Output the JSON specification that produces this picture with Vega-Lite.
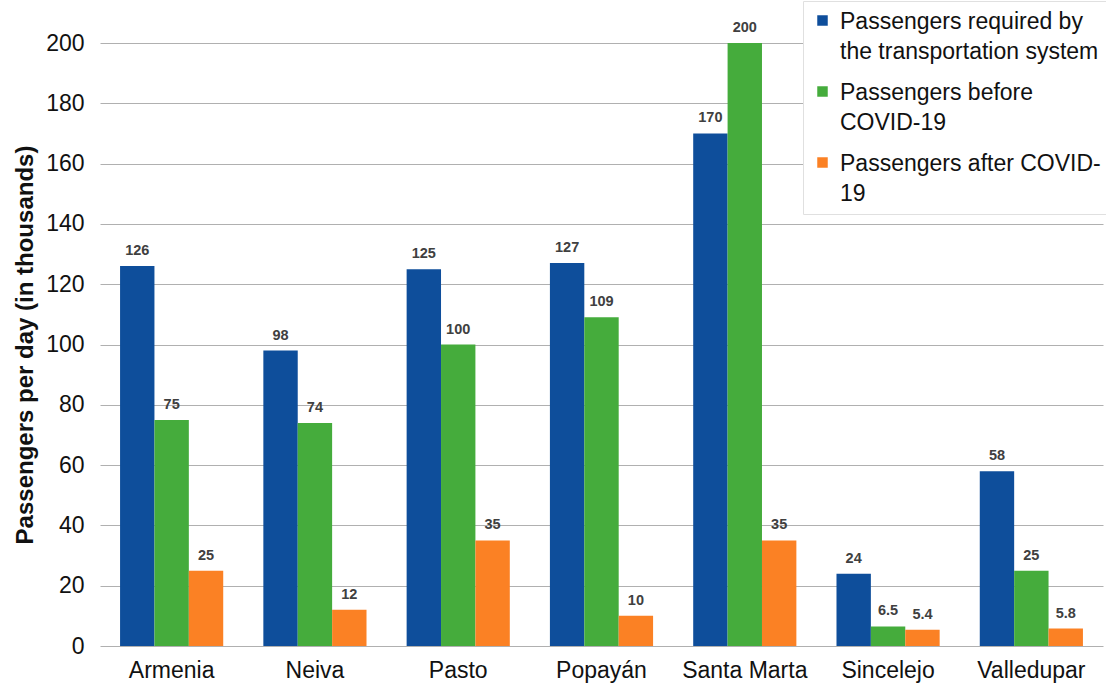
{
  "$schema": "https://vega.github.io/schema/vega-lite/v6.json",
  "autosize": "none",
  "width": 1003,
  "height": 603,
  "padding": {"left": 100, "top": 43, "right": 3, "bottom": 40},
  "background": "white",
  "config": {
    "view": {"stroke": null},
    "font": "Liberation Sans",
    "style": {"guide-label": {"lineHeight": 30}}
  },
  "data": {
    "values": [
      {"city": "Armenia", "series": "Passengers required by the transportation system", "value": 126, "label": "126"},
      {"city": "Armenia", "series": "Passengers before COVID-19", "value": 75, "label": "75"},
      {"city": "Armenia", "series": "Passengers after COVID-19", "value": 25, "label": "25"},
      {"city": "Neiva", "series": "Passengers required by the transportation system", "value": 98, "label": "98"},
      {"city": "Neiva", "series": "Passengers before COVID-19", "value": 74, "label": "74"},
      {"city": "Neiva", "series": "Passengers after COVID-19", "value": 12, "label": "12"},
      {"city": "Pasto", "series": "Passengers required by the transportation system", "value": 125, "label": "125"},
      {"city": "Pasto", "series": "Passengers before COVID-19", "value": 100, "label": "100"},
      {"city": "Pasto", "series": "Passengers after COVID-19", "value": 35, "label": "35"},
      {"city": "Popayán", "series": "Passengers required by the transportation system", "value": 127, "label": "127"},
      {"city": "Popayán", "series": "Passengers before COVID-19", "value": 109, "label": "109"},
      {"city": "Popayán", "series": "Passengers after COVID-19", "value": 10, "label": "10"},
      {"city": "Santa Marta", "series": "Passengers required by the transportation system", "value": 170, "label": "170"},
      {"city": "Santa Marta", "series": "Passengers before COVID-19", "value": 200, "label": "200"},
      {"city": "Santa Marta", "series": "Passengers after COVID-19", "value": 35, "label": "35"},
      {"city": "Sincelejo", "series": "Passengers required by the transportation system", "value": 24, "label": "24"},
      {"city": "Sincelejo", "series": "Passengers before COVID-19", "value": 6.5, "label": "6.5"},
      {"city": "Sincelejo", "series": "Passengers after COVID-19", "value": 5.4, "label": "5.4"},
      {"city": "Valledupar", "series": "Passengers required by the transportation system", "value": 58, "label": "58"},
      {"city": "Valledupar", "series": "Passengers before COVID-19", "value": 25, "label": "25"},
      {"city": "Valledupar", "series": "Passengers after COVID-19", "value": 5.8, "label": "5.8"}
    ]
  },
  "encoding": {
    "x": {
      "field": "city", "type": "nominal", "sort": null,
      "scale": {"paddingInner": 0.28, "paddingOuter": 0.14},
      "axis": {"title": null, "labelAngle": 0, "labelFontSize": 23, "labelColor": "#111", "domain": false, "ticks": false, "labelPadding": 13, "grid": false}
    },
    "xOffset": {
      "field": "series", "type": "nominal",
      "sort": ["Passengers required by the transportation system", "Passengers before COVID-19", "Passengers after COVID-19"]
    },
    "y": {
      "field": "value", "type": "quantitative",
      "scale": {"domain": [0, 200]},
      "axis": {
        "title": "Passengers per day (in thousands)", "titleFontSize": 24, "titleFontWeight": "bold", "titleColor": "#111",
        "labelFontSize": 23, "labelColor": "#111", "values": [0,20,40,60,80,100,120,140,160,180,200],
        "labelOverlap": false,
        "domain": false, "ticks": false, "labelPadding": 16, "titlePadding": 8,
        "grid": true, "gridColor": "#b0b0b0", "gridWidth": 1
      }
    }
  },
  "layer": [
    {
      "mark": {"type": "bar"},
      "encoding": {
        "color": {
          "field": "series", "type": "nominal",
          "sort": ["Passengers required by the transportation system", "Passengers before COVID-19", "Passengers after COVID-19"],
          "scale": {
            "domain": ["Passengers required by the transportation system", "Passengers before COVID-19", "Passengers after COVID-19"],
            "range": ["#0E4E9B", "#45AC3C", "#FB8124"]
          },
          "legend": {
            "title": null, "orient": "none", "legendX": 703, "legendY": -42,
            "fillColor": "white", "strokeColor": "#e0e0e0", "padding": 8,
            "symbolType": "square", "symbolSize": 110, "symbolStrokeWidth": 0,
            "labelFontSize": 23, "labelColor": "#111", "labelLimit": 400, "rowPadding": 16,
            "labelBaseline": "top", "labelOffset": 6,
            "encode": {"labels": {"update": {"dy": {"value": -10}}}},
            "labelExpr": "datum.label == 'Passengers required by the transportation system' ? ['Passengers required by', 'the transportation system'] : datum.label == 'Passengers before COVID-19' ? ['Passengers before', 'COVID-19'] : ['Passengers after COVID-', '19']"
          }
        }
      }
    },
    {
      "mark": {"type": "text", "dy": -11, "fontSize": 14.5, "fontWeight": "bold", "color": "#404040", "baseline": "alphabetic"},
      "encoding": {"text": {"field": "label"}}
    }
  ]
}
